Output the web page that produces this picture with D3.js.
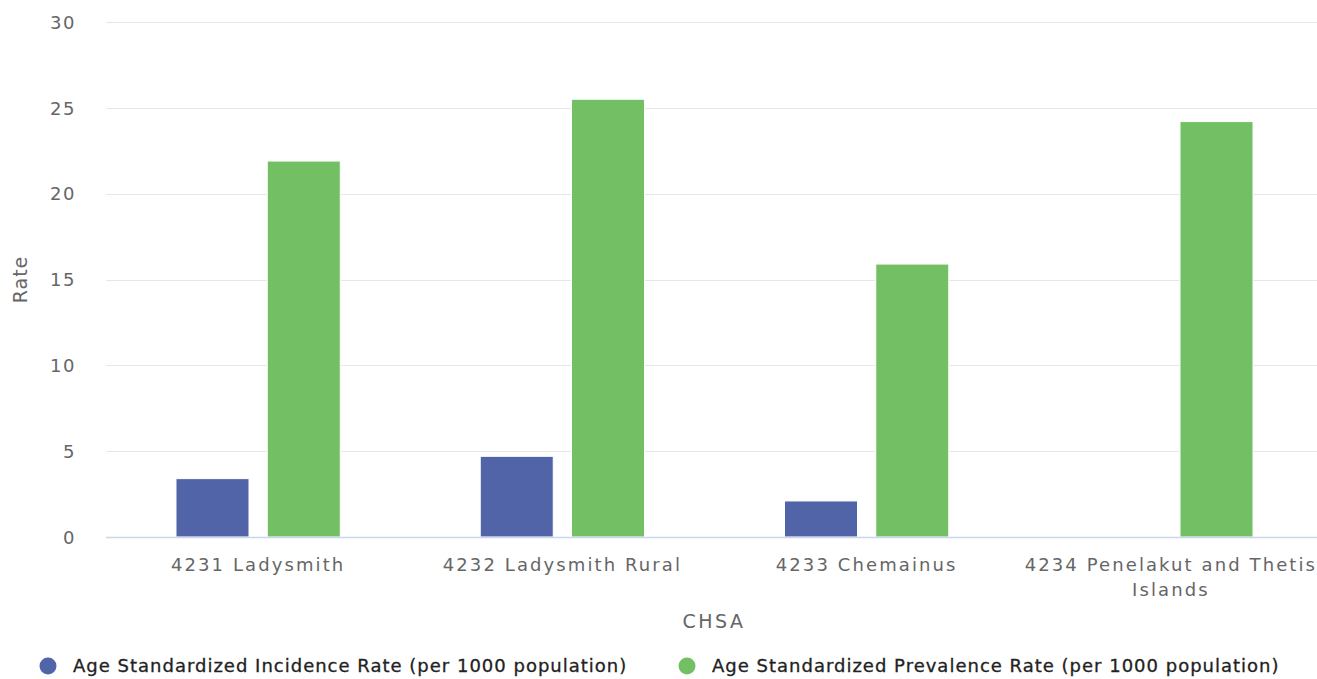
<!DOCTYPE html>
<html><head><meta charset="utf-8">
<script src="https://cdn.jsdelivr.net/npm/d3@7"></script>
<style>
html,body{margin:0;padding:0;background:#fff;overflow:hidden;}
svg text{font-family:"DejaVu Sans",Verdana,sans-serif;}
</style></head>
<body><div id="chart"></div>
<script>
const categories = ["4231 Ladysmith","4232 Ladysmith Rural","4233 Chemainus","4234 Penelakut and Thetis Islands"];
const seriesNames = ["Age Standardized Incidence Rate (per 1000 population)","Age Standardized Prevalence Rate (per 1000 population)"];
const incidence = [3.4, 4.7, 2.1, null];
const prevalence = [21.9, 25.5, 15.9, 24.2];
const yTicks = [0,5,10,15,20,25,30];
const colors = ["#5264a8","#73c064"];

const W = 1317, H = 679;
const m = {left:106, top:22, bottom:142};
const svg = d3.select("#chart").append("svg").attr("width",W).attr("height",H);
const x = d3.scaleBand().domain(categories).range([m.left, 1323]).paddingInner(0).paddingOuter(0);
const y = d3.scaleLinear().domain([0,30]).range([H-m.bottom, m.top]);

// grid
svg.append("g").selectAll("line").data(yTicks.filter(d=>d>0)).join("line")
  .attr("x1",m.left).attr("x2",W)
  .attr("y1",d=>Math.round(y(d))+0.5).attr("y2",d=>Math.round(y(d))+0.5)
  .attr("stroke","#e6e6e6").attr("stroke-width",1);

// y axis labels
const yAxis = d3.axisLeft(y).tickValues(yTicks).tickSize(0).tickPadding(0);
const yg = svg.append("g").attr("transform",`translate(${m.left-30},0)`).call(yAxis);
yg.select(".domain").remove();
yg.selectAll("text").attr("font-size",18).attr("fill","#666").attr("letter-spacing",1.5).attr("dy","0.35em");

// bars (grouped: group padding 0.2, point padding 0.1)
const bw = x.bandwidth();
const slot = bw*0.6/2;
const series = [incidence, prevalence];
series.forEach((vals,si)=>{
  svg.append("g").selectAll("rect").data(categories.map((c,i)=>({c,v:vals[i]})).filter(d=>d.v!=null)).join("rect")
    .attr("x",d=>x(d.c)+bw*0.2+slot*si+slot*0.1)
    .attr("width",slot*0.8)
    .attr("y",d=>y(d.v))
    .attr("height",d=>y(0)-y(d.v))
    .attr("fill",colors[si])
    .attr("stroke","#fff").attr("stroke-width",1);
});

// x axis line
svg.append("line").attr("x1",m.left).attr("x2",W)
  .attr("y1",Math.round(y(0))+0.5).attr("y2",Math.round(y(0))+0.5)
  .attr("stroke","#ccd6eb").attr("stroke-width",1.5);

// x labels
const xAxis = d3.axisBottom(x).tickSize(0).tickPadding(0);
const xg = svg.append("g").attr("transform",`translate(0,${y(0)})`).call(xAxis);
xg.select(".domain").remove();
xg.selectAll("text").attr("font-size",18).attr("fill","#666").attr("letter-spacing",2.1)
  .attr("dy",null).attr("y",34)
  .each(function(d){
    const t = d3.select(this);
    if (d.length > 30) {
      const parts = ["4234 Penelakut and Thetis","Islands"];
      t.text(null);
      parts.forEach((p,i)=>t.append("tspan").attr("x",0).attr("dy",i===0?0:"1.4em").text(p));
    }
  });

// axis titles
svg.append("text").attr("transform","translate(27,"+((y(0)+y(30))/2)+") rotate(-90)")
  .attr("text-anchor","middle").attr("font-size",19).attr("fill","#666").attr("letter-spacing",1).text("Rate");
svg.append("text").attr("x",714).attr("y",628).attr("text-anchor","middle")
  .attr("font-size",19).attr("fill","#666").attr("letter-spacing",2.5).text("CHSA");

// legend
const legX = [48, 687];
seriesNames.forEach((n,i)=>{
  const g = svg.append("g").attr("transform",`translate(${legX[i]},666)`);
  g.append("circle").attr("r",8.5).attr("fill",colors[i]);
  g.append("text").attr("x",25).attr("dy","0.35em").attr("font-size",18)
    .attr("fill","#222").attr("letter-spacing",1).attr("stroke","#222").attr("stroke-width",0.3).text(n);
});
</script></body></html>
